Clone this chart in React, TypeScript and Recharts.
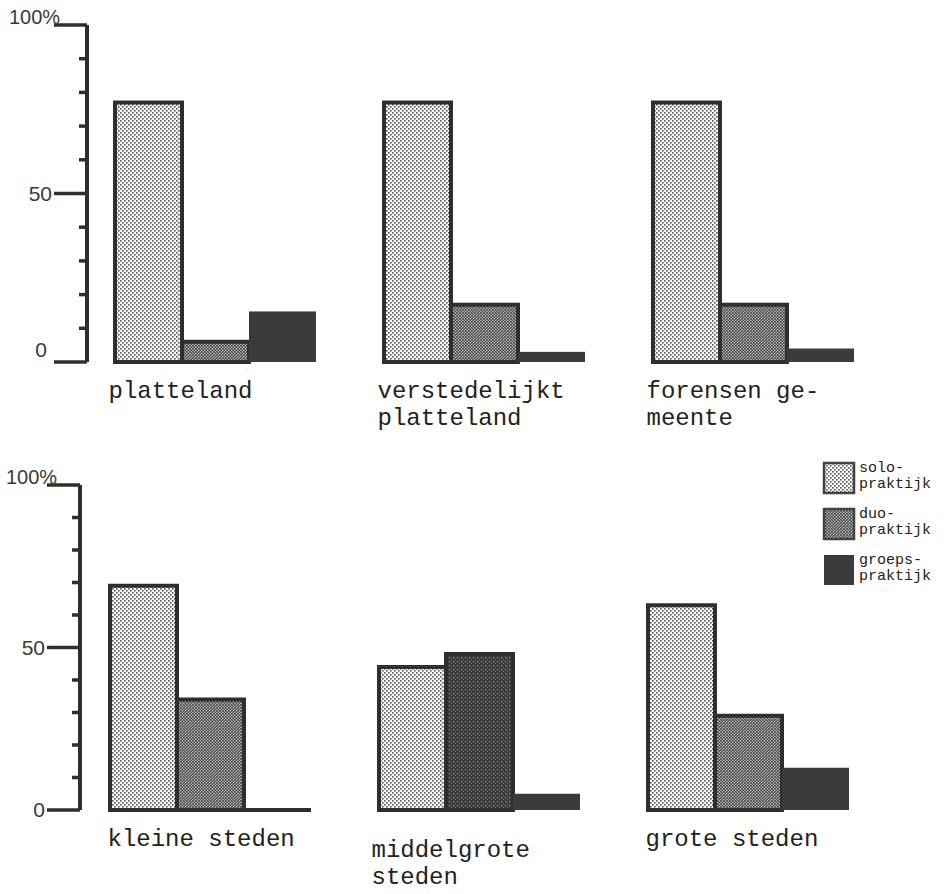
import React from 'react';
import { BarChart, Bar, XAxis, YAxis, Cell } from 'recharts';

// Huisartsenpraktijken naar vorm, per type gemeente (percentages)
const topCategories = [['platteland'], ['verstedelijkt', 'platteland'], ['forensen ge-', 'meente']];
const topSolo = [77, 77, 77];
const topDuo = [6, 17, 17];
const topGroeps = [15, 3, 4];

const bottomCategories = [['kleine steden'], ['middelgrote', 'steden'], ['grote steden']];
const bottomSolo = [69, 44, 63];
const bottomDuo = [34, 48, 29];
const bottomGroeps = [0, 5, 13];

const yTicks = [0, 10, 20, 30, 40, 50, 60, 70, 80, 90, 100];
const yLabels: Record<number, string> = { 0: '0', 50: '50', 100: '100%' };

const seriesKeys = ['solo', 'duo', 'groeps'];
const seriesLabels = [['solo-', 'praktijk'], ['duo-', 'praktijk'], ['groeps-', 'praktijk']];

const INK = '#2f2f2f';
const MONO = '"Liberation Mono", "DejaVu Sans Mono", monospace';
const fills = ['url(#pSolo)', 'url(#pDuo)', '#3b3b3b'];

const makeRows = (cats: string[][], solo: number[], duo: number[], groeps: number[]) =>
  cats.map((c, i) => ({ name: c.join(' '), lines: c, solo: solo[i], duo: duo[i], groeps: groeps[i] }));

const topData = makeRows(topCategories, topSolo, topDuo, topGroeps);
const bottomData = makeRows(bottomCategories, bottomSolo, bottomDuo, bottomGroeps);

const Patterns = () => (
  <svg width={0} height={0} style={{ position: 'absolute' }}>
    <defs>
      <pattern id="pSolo" width={4} height={4} patternUnits="userSpaceOnUse">
        <rect width={4} height={4} fill="#f7f7f7" />
        <rect x={0} y={0} width={1.6} height={1.6} fill="#555" />
        <rect x={2} y={2} width={1.6} height={1.6} fill="#555" />
      </pattern>
      <pattern id="pDuo" width={3} height={3} patternUnits="userSpaceOnUse">
        <rect width={3} height={3} fill="#c2c2c2" />
        <rect x={0} y={0} width={1.7} height={1.7} fill="#3f3f3f" />
        <rect x={1.5} y={1.5} width={1.7} height={1.7} fill="#3f3f3f" />
      </pattern>
      <pattern id="pDark" width={4} height={4} patternUnits="userSpaceOnUse">
        <rect width={4} height={4} fill="#3a3a3a" />
        <rect x={1} y={1} width={1.2} height={1.2} fill="#9a9a9a" />
        <rect x={3} y={3} width={1.2} height={1.2} fill="#777" />
      </pattern>
    </defs>
  </svg>
);

const BarShape = (props: any) => {
  const { x, y, width, height, fill, stroke, strokeWidth } = props;
  if (!height) {
    return <line x1={x} x2={x + width} y1={y} y2={y} stroke={INK} strokeWidth={4} />;
  }
  return <rect x={x} y={y} width={width} height={height} fill={fill} stroke={stroke} strokeWidth={strokeWidth} />;
};

const YTick = (props: any) => {
  const { x, y, payload, zeroRaise } = props;
  const v = payload.value as number;
  const major = v in yLabels;
  const len = major ? 33 : 8;
  const sans = '"Liberation Sans", Arial, sans-serif';
  return (
    <g>
      <line x1={x - len} x2={x} y1={y} y2={y} stroke={INK} strokeWidth={3.5} />
      {v === 100 && (
        <text x={Math.max(x - 78, 6)} y={y - 1} fontFamily={sans} fontSize={20} fill="#3a3a3a">{yLabels[v]}</text>
      )}
      {(v === 50 || v === 0) && (
        <text
          x={x - (v === 0 && zeroRaise ? 40 : 35)}
          y={y + 7 - (v === 0 ? zeroRaise : 0)}
          textAnchor="end"
          fontFamily={sans}
          fontSize={21}
          fill="#3a3a3a"
        >
          {yLabels[v]}
        </text>
      )}
    </g>
  );
};

const XTick = (props: any) => {
  const { x, y, index, rows, lower } = props;
  const row = rows[index];
  const extra = lower && index === 1 ? 11 : 0;
  const dx = lower ? (index === 1 ? -108 : -103) : -107;
  return (
    <text x={x + dx} y={y + 36 + extra} fontFamily={MONO} fontSize={24} fill="#222">
      {row.lines.map((l: string, i: number) => (
        <tspan key={i} x={x + dx} dy={i === 0 ? 0 : 27}>{l}</tspan>
      ))}
    </text>
  );
};

const LegendBox = () => (
  <div style={{ position: 'absolute', left: 822, top: 461, fontFamily: MONO, fontSize: 15, color: '#222' }}>
    {seriesKeys.map((k, i) => (
      <div key={k} style={{ display: 'flex', alignItems: 'flex-start', height: 46 }}>
        <svg width={37} height={34}>
          <rect x={2} y={2} width={30} height={30} fill={fills[i]} stroke={i < 2 ? '#444' : 'none'} strokeWidth={2.5} />
        </svg>
        <div style={{ lineHeight: '16px', marginTop: 0 }}>
          {seriesLabels[i].map((l) => (
            <div key={l}>{l}</div>
          ))}
        </div>
      </div>
    ))}
  </div>
);

interface RowProps {
  data: any[];
  top: number;
  height: number;
  marginTop: number;
  plotHeight: number;
  plotLeft: number;
  padLeft: number;
  zeroRaise: number;
  lower?: boolean;
}

const Row: React.FC<RowProps> = ({ data, top, height, marginTop, plotHeight, plotLeft, padLeft, zeroRaise, lower }) => (
  <div style={{ position: 'absolute', left: 0, top }}>
    <BarChart
      width={950}
      height={height}
      data={data}
      margin={{ top: marginTop, right: 0, left: 0, bottom: 0 }}
      barGap={0}
      barCategoryGap={0}
    >
      <XAxis
        dataKey="name"
        axisLine={false}
        tickLine={false}
        tickSize={0}
        tickMargin={0}
        interval={0}
        height={height - marginTop - plotHeight}
        padding={{ left: padLeft, right: 950 - plotLeft - 807 - padLeft }}
        tick={<XTick rows={data} lower={lower} />}
      />
      <YAxis
        domain={[0, 100]}
        ticks={yTicks}
        width={plotLeft}
        axisLine={{ stroke: INK, strokeWidth: 4 }}
        tickLine={false}
        tickSize={0}
        tickMargin={0}
        interval={0}
        tick={<YTick zeroRaise={zeroRaise} />}
      />
      <Bar dataKey="solo" barSize={67} fill={fills[0]} stroke={INK} strokeWidth={4} shape={BarShape} isAnimationActive={false} />
      <Bar dataKey="duo" barSize={67} fill={fills[1]} stroke={INK} strokeWidth={4} shape={BarShape} isAnimationActive={false}>
        {data.map((_, i) => (
          <Cell key={i} fill={lower && i === 1 ? 'url(#pDark)' : fills[1]} />
        ))}
      </Bar>
      <Bar dataKey="groeps" barSize={67} fill={fills[2]} stroke="none" strokeWidth={0} shape={BarShape} isAnimationActive={false} />
    </BarChart>
  </div>
);

export default function App() {
  return (
    <div style={{ position: 'absolute', left: 0, top: 0, width: 950, height: 894, background: '#fff', overflow: 'hidden' }}>
      <Patterns />
      <Row data={topData} top={0} height={450} marginTop={25} plotHeight={337} plotLeft={87} padLeft={-6} zeroRaise={12} />
      <Row data={bottomData} top={440} height={454} marginTop={45} plotHeight={325} plotLeft={80} padLeft={-4} zeroRaise={0} lower />
      <LegendBox />
    </div>
  );
}
